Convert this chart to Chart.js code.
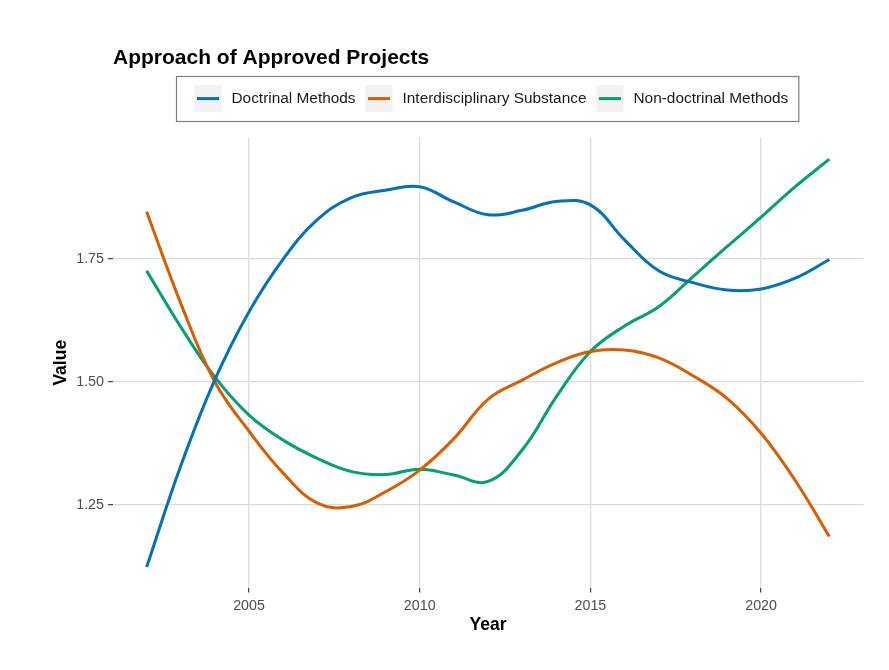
<!DOCTYPE html>
<html>
<head>
<meta charset="utf-8">
<script src="https://cdn.jsdelivr.net/npm/chart.js@4/dist/chart.umd.min.js"></script>
<style>
  html, body { margin: 0; padding: 0; background: #ffffff; }
  #wrap { width: 889px; height: 670px; position: relative; }
</style>
</head>
<body>
<div id="wrap"><canvas id="c" width="889" height="670"></canvas></div>
<script>
const chartTitle = "Approach of Approved Projects";
const xTitle = "Year";
const yTitle = "Value";
const years = [2002, 2003, 2004, 2005, 2006, 2007, 2008, 2009, 2010, 2011, 2012,
               2013, 2014, 2015, 2016, 2017, 2018, 2019, 2020, 2021, 2022];
const seriesNames = ["Doctrinal Methods", "Interdisciplinary Substance", "Non-doctrinal Methods"];
const doctrinal = [1.124, 1.330, 1.505, 1.643, 1.750, 1.830, 1.875, 1.890, 1.897, 1.866, 1.840,
                   1.849, 1.867, 1.860, 1.789, 1.726, 1.702, 1.687, 1.689, 1.711, 1.749];
const interdisciplinary = [1.846, 1.660, 1.500, 1.400, 1.315, 1.254, 1.247, 1.277, 1.321, 1.385, 1.465,
                           1.504, 1.539, 1.562, 1.565, 1.549, 1.513, 1.467, 1.396, 1.300, 1.186];
const nondoctrinal = [1.726, 1.612, 1.510, 1.433, 1.382, 1.345, 1.318, 1.312, 1.323, 1.311, 1.298,
                      1.362, 1.470, 1.562, 1.614, 1.653, 1.714, 1.775, 1.835, 1.897, 1.953];
const xTicks = [2005, 2010, 2015, 2020];
const yTicks = [1.25, 1.50, 1.75];
const colors = ["#0072B2", "#D55E00", "#009E73"];

const FONT = "'Liberation Sans', Arial, Helvetica, sans-serif";
const seriesValues = [doctrinal, interdisciplinary, nondoctrinal];

const datasets = seriesNames.map((name, i) => ({
  label: name,
  data: years.map((y, j) => ({ x: y, y: seriesValues[i][j] })),
  borderColor: colors[i],
  backgroundColor: colors[i],
  borderWidth: 3,
  pointRadius: 0,
  pointHoverRadius: 0,
  tension: 0.4,
  fill: false
}));

const titleLegendPlugin = {
  id: 'titleLegend',
  afterDraw(chart) {
    const ctx = chart.ctx;
    ctx.save();
    // title
    ctx.fillStyle = '#000000';
    ctx.font = 'bold 21px ' + FONT;
    ctx.textAlign = 'left';
    ctx.textBaseline = 'alphabetic';
    ctx.fillText(chartTitle, 113, 64.3);
    // legend
    ctx.font = '15.4px ' + FONT;
    const keySize = 27, gapKT = 10, gapTK = 10;
    const cy = 98.6;
    let x = 194.5;
    const boxLeft = 176, boxTop = 76, boxBottom = 121;
    const items = chart.data.datasets.map(ds => ({ label: ds.label, color: ds.borderColor }));
    const positions = [];
    items.forEach(it => {
      const w = ctx.measureText(it.label).width;
      positions.push({ kx: x, tx: x + keySize + gapKT, w, it });
      x += keySize + gapKT + w + gapTK;
    });
    const boxRight = x - gapTK + 10;
    ctx.fillStyle = '#ffffff';
    ctx.fillRect(boxLeft, boxTop, boxRight - boxLeft, boxBottom - boxTop);
    ctx.strokeStyle = '#7f7f7f';
    ctx.lineWidth = 1.2;
    ctx.strokeRect(boxLeft + 0.5, boxTop + 0.5, boxRight - boxLeft, boxBottom - boxTop);
    positions.forEach(p => {
      ctx.fillStyle = '#f2f2f2';
      ctx.fillRect(p.kx, cy - keySize / 2, keySize, keySize);
      ctx.strokeStyle = p.it.color;
      ctx.lineWidth = 3;
      ctx.beginPath();
      ctx.moveTo(p.kx + 2.5, cy);
      ctx.lineTo(p.kx + keySize - 2.5, cy);
      ctx.stroke();
      ctx.fillStyle = '#1a1a1a';
      ctx.textBaseline = 'middle';
      ctx.fillText(p.it.label, p.tx, cy + 0.5);
    });
    ctx.restore();
  }
};

new Chart(document.getElementById('c'), {
  type: 'line',
  data: { datasets },
  plugins: [titleLegendPlugin],
  options: {
    responsive: false,
    animation: false,
    devicePixelRatio: 1,
    layout: { padding: { left: 0, right: 25.5, top: 137.5, bottom: 22 } },
    plugins: {
      legend: { display: false },
      title: { display: false },
      tooltip: { enabled: false }
    },
    scales: {
      x: {
        type: 'linear',
        min: 2001,
        max: 2023,
        afterBuildTicks: (scale) => { scale.ticks = xTicks.map(v => ({ value: v })); },
        afterFit: (scale) => { scale.height = 60; },
        ticks: {
          callback: (v) => String(v),
          color: '#4d4d4d',
          font: { family: FONT, size: 14.3 },
          padding: 5,
          maxRotation: 0,
          autoSkip: false
        },
        grid: {
          color: '#dcdcdc',
          lineWidth: 1.3,
          tickColor: '#333333',
          tickLength: 4.5,
          tickWidth: 1.1
        },
        border: { display: false },
        title: {
          display: true,
          text: xTitle,
          color: '#000000',
          font: { family: FONT, size: 17.5, weight: 'bold' },
          padding: { top: 0, bottom: 12.5 }
        }
      },
      y: {
        type: 'linear',
        min: 1.0815,
        max: 1.997,
        afterBuildTicks: (scale) => { scale.ticks = yTicks.map(v => ({ value: v })); },
        afterFit: (scale) => { scale.width = 112.5; },
        ticks: {
          callback: (v) => Number(v).toFixed(2),
          color: '#4d4d4d',
          font: { family: FONT, size: 14.3 },
          padding: 4,
          autoSkip: false
        },
        grid: {
          color: '#dcdcdc',
          lineWidth: 1.3,
          tickColor: '#333333',
          tickLength: 4.5,
          tickWidth: 1.1
        },
        border: { display: false },
        title: {
          display: true,
          text: yTitle,
          color: '#000000',
          font: { family: FONT, size: 17.5, weight: 'bold' },
          padding: { top: 51, bottom: 0 }
        }
      }
    }
  }
});
</script>
</body>
</html>
